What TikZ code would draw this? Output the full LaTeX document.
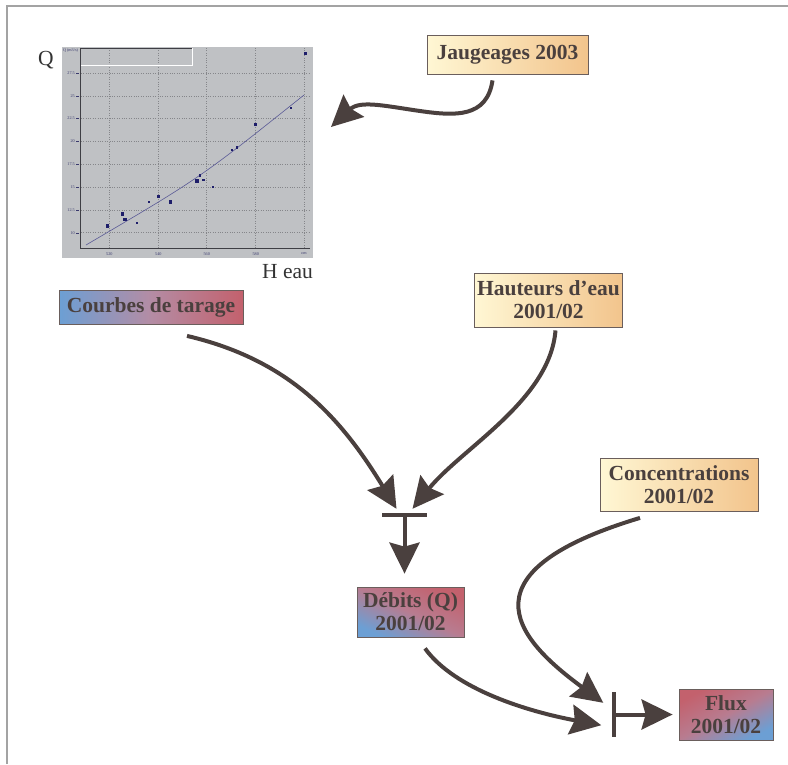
\documentclass[tikz,border=0pt]{standalone}
\usepackage{fontspec}
\setmainfont{Liberation Serif}
\usetikzlibrary{arrows.meta,calc}
\definecolor{ink}{HTML}{4A403E}
\definecolor{boxline}{HTML}{6A5E5C}
\definecolor{yelL}{HTML}{FFF7D4}
\definecolor{yelR}{HTML}{F2C48C}
\definecolor{bluC}{HTML}{6C9FD4}
\definecolor{redC}{HTML}{C3616D}
\definecolor{midC}{HTML}{B48CA4}
\definecolor{midD}{HTML}{B87C90}
\definecolor{plotbg}{HTML}{BFC1C4}
\definecolor{gridc}{HTML}{85868A}
\definecolor{axisc}{HTML}{3E3E44}
\definecolor{ptc}{HTML}{1E1E6A}
\definecolor{fitc}{HTML}{5A5A96}
\definecolor{tickc}{HTML}{3A3A6E}
\definecolor{framec}{HTML}{A3A3A3}
\tikzset{
  box/.style={draw=boxline, line width=0.8pt, text=ink, inner sep=0pt,
    font=\bfseries\fontsize{21.5}{23}\selectfont, align=center},
  yelbox/.style={box, left color=yelL, right color=yelR},
  lrbox/.style={box, left color=bluC, right color=redC, middle color=midC},
  bar/.style={fill=ink, draw=none, inner sep=0pt},
  conn/.style={draw=ink, line width=4pt,
    -{Stealth[length=31pt,width=30pt,inset=4pt]}},
  gridl/.style={gridc, line width=0.45pt, dash pattern=on 1pt off 1.4pt},
  pt/.style={fill=ptc, draw=none, minimum size=2.4pt, inner sep=0pt},
  bigpt/.style={fill=ptc, draw=none, minimum size=3.3pt, inner sep=0pt},
  ticklab/.style={text=tickc, font=\fontsize{4.2}{4.5}\selectfont, inner sep=0.5pt},
  axlab/.style={text=black!80, font=\fontsize{21.5}{23}\selectfont, inner sep=0pt}
}
\begin{document}
\begin{tikzpicture}[x=1pt,y=-1pt]
\useasboundingbox (0,0) rectangle (788,764);
% frame
\draw[framec, line width=1.2pt] (7,764) -- (7,6) -- (788,6);

% ---- plot ----
\fill[plotbg] (62,47) rectangle (313,258);
\foreach \gx in {109.3,158.3,206.7,255.7,304}
  \draw[gridl] (\gx,48) -- (\gx,248);
\foreach \gy in {73.3,96,118.3,141,164.3,187,210,232.7}
  \draw[gridl] (80.7,\gy) -- (310,\gy);
\draw[white, line width=0.8pt] (80.7,65) -- (192.3,65) -- (192.3,48);
\draw[axisc, line width=0.8pt] (192.3,48) -- (80.7,48) -- (80.7,248) -- (310,248);
\foreach \gy/\lab in {73.3/27.5,96/25,118.3/22.5,141/20,164.3/17.5,187/15,210/12.5,232.7/10}{
  \draw[tickc, line width=0.3pt] (76,\gy) -- (78.5,\gy);
  \node[ticklab, anchor=east] (yl\lab) at (75.5,\gy) {\lab};
}
\node[ticklab, anchor=west] (qunit) at (62.3,50.5) {Q (m3/s)};
\foreach \gx/\lab in {109.3/520,158.3/540,206.7/560,255.7/580,304/cm}
  \node[ticklab] (xl\lab) at (\gx,254) {\lab};
\draw[fitc, line width=0.6pt] (86,245) .. controls (200,178) .. (304,95);
\foreach \px/\py in {136.7/222.7,149/202,158.3/196.3,199.7/175.3,203.3/179.7,213/187,232/150,237/147.3,255.3/124.3,291/108,305.3/53.3}
  \node[pt] at (\px,\py) {};
\foreach \px/\py in {107.7/226,122.3/214,125/219.7,170.7/202,197/181}
  \node[bigpt] at (\px,\py) {};
\node[axlab, anchor=base west] (qlab) at (38,65) {Q};
\node[axlab, anchor=base west] (hlab) at (262,278) {H eau};
\coordinate (plotin) at (331,127);

% ---- boxes ----
\node[yelbox, minimum width=161pt, minimum height=39pt] (jaug) at (507.5,54.5) {Jaugeages 2003};
\node[lrbox, minimum width=184pt, minimum height=34pt] (cour) at (151,307.5) {Courbes de tarage};
\node[yelbox, minimum width=148pt, minimum height=54pt] (haut) at (548.5,300) {Hauteurs d’eau\\2001/02};
\node[yelbox, minimum width=158pt, minimum height=53pt] (conc) at (679,485) {Concentrations\\2001/02};
\node[box, top color=redC, bottom color=bluC, middle color=midD, shading angle=-25,
      minimum width=107pt, minimum height=50pt] (deb) at (410.5,612) {Débits (Q)\\2001/02};
\node[box, top color=redC, bottom color=bluC, middle color=midD, shading angle=28,
      minimum width=94pt, minimum height=51pt] (flux) at (726,714.5) {Flux\\2001/02};

% ---- junction bars ----
\node[bar, minimum width=45pt, minimum height=4pt] (j1) at (404.5,515) {};
\node[bar, minimum width=4pt, minimum height=45pt] (j2) at (613.5,714.5) {};

% ---- connectors ----
\draw[conn] ($(jaug.south)+(-15,6)$) .. controls (487,118) and (455,116) .. (420,111)
  .. controls (385,106) and (360,100) .. (plotin);
\draw[conn] ($(cour.south)+(36,11)$) .. controls (290,360) and (341,418) .. ($(j1.north)+(-8,-4)$);
\draw[conn] ($(haut.south)+(7,3)$) .. controls (550,400) and (462,448) .. ($(j1.north)+(8,-4)$);
\draw[conn, shorten >=13pt] (j1.center) -- (j1.center |- deb.north);
\draw[conn] ($(conc.south)+(-39,6)$) .. controls (450,575) and (525,645) .. ($(j2.north west)+(-8,11)$);
\draw[conn] ($(deb.south)+(14.5,11)$) .. controls (455,690) and (530,712) .. ($(j2.south west)+(-10,-12)$);
\draw[conn, shorten >=6pt] (j2.center) -- (flux.west);
\end{tikzpicture}
\end{document}
